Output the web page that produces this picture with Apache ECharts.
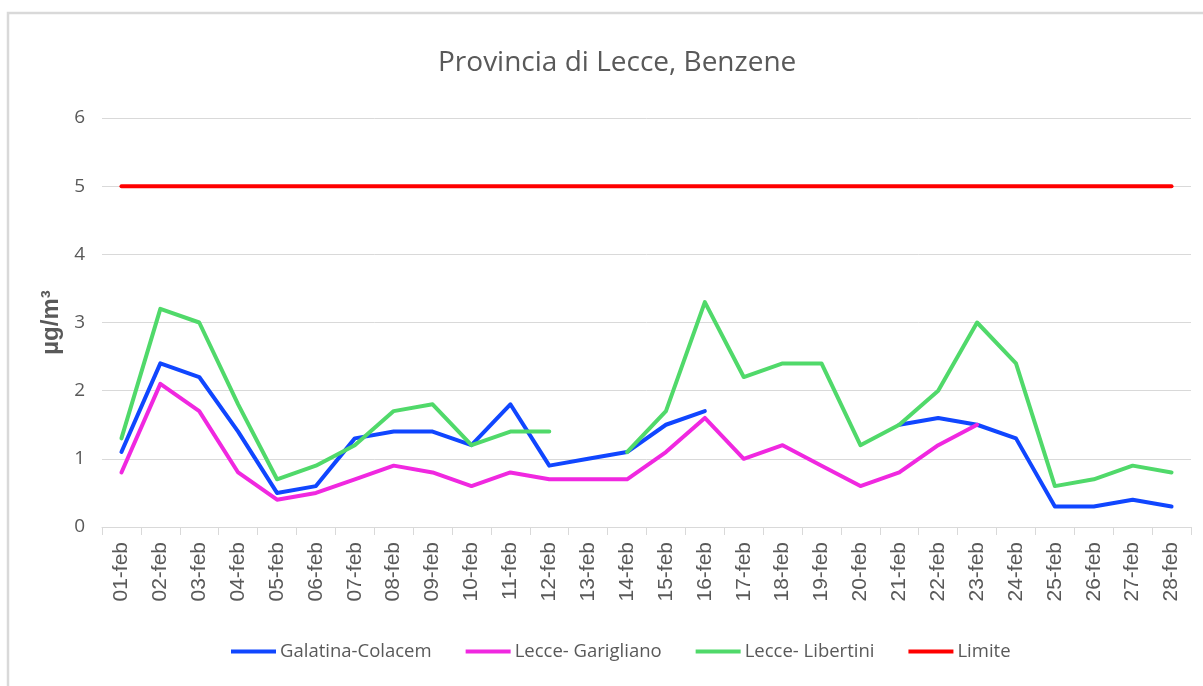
<!DOCTYPE html>
<html>
<head>
<meta charset="utf-8">
<script src="https://cdn.jsdelivr.net/npm/echarts@6/dist/echarts.min.js"></script>
<style>
  html, body { margin: 0; padding: 0; background: #fff; }
  #chart { width: 1203px; height: 686px; }
</style>
</head>
<body>
<div id="chart"></div>
<script>
// giorni di febbraio
var days = ['01-feb', '02-feb', '03-feb', '04-feb', '05-feb', '06-feb', '07-feb',
  '08-feb', '09-feb', '10-feb', '11-feb', '12-feb', '13-feb', '14-feb', '15-feb',
  '16-feb', '17-feb', '18-feb', '19-feb', '20-feb', '21-feb', '22-feb', '23-feb',
  '24-feb', '25-feb', '26-feb', '27-feb', '28-feb']

// valori benzene (µg/m3), null = dato mancante
var galatina = [1.1, 2.4, 2.2, 1.4, 0.5, 0.6, 1.3, 1.4, 1.4, 1.2, 1.8, 0.9, 1.0, 1.1,
  1.5, 1.7, null, null, null, null, 1.5, 1.6, 1.5, 1.3, 0.3, 0.3, 0.4, 0.3]
var garigliano = [0.8, 2.1, 1.7, 0.8, 0.4, 0.5, 0.7, 0.9, 0.8, 0.6, 0.8, 0.7, 0.7, 0.7,
  1.1, 1.6, 1.0, 1.2, 0.9, 0.6, 0.8, 1.2, 1.5, null, null, null, null, null]
var libertini = [1.3, 3.2, 3.0, 1.8, 0.7, 0.9, 1.2, 1.7, 1.8, 1.2, 1.4, 1.4, null, 1.1,
  1.7, 3.3, 2.2, 2.4, 2.4, 1.2, 1.5, 2.0, 3.0, 2.4, 0.6, 0.7, 0.9, 0.8]
var limite = days.map(function () { return 5 })

var chart = echarts.init(document.getElementById('chart'))

function line(name, data, color) {
  return {
    name: name,
    type: 'line',
    data: data,
    symbol: 'none',
    connectNulls: false,
    lineStyle: { width: 4, color: color, cap: 'round', join: 'round' },
    itemStyle: { color: color }
  }
}

var option = {
  animation: false,
  backgroundColor: '#fff',
  textStyle: { fontFamily: 'Open Sans, sans-serif' },
  graphic: [{
    type: 'rect',
    shape: { x: 8, y: 13, width: 1300, height: 800 },
    style: { fill: 'none', stroke: '#d9d9d9', lineWidth: 2.5 },
    silent: true
  }],
  title: {
    text: 'Provincia di Lecce, Benzene',
    left: 433,
    top: 44,
    textStyle: {
      fontFamily: 'Open Sans, sans-serif',
      fontSize: 28,
      fontWeight: 'normal',
      color: '#595959'
    }
  },
  legend: {
    bottom: 20,
    left: 226,
    icon: 'rect',
    itemWidth: 45,
    itemHeight: 4,
    itemGap: 34,
    textStyle: { fontFamily: 'Open Sans, sans-serif', fontSize: 18.5, color: '#595959', padding: [0, 0, 0, -1] },
    data: ['Galatina-Colacem', 'Lecce- Garigliano', 'Lecce- Libertini', 'Limite']
  },
  grid: { left: 102, right: 12, top: 118, bottom: 159 },
  xAxis: {
    type: 'category',
    data: days,
    boundaryGap: true,
    axisLine: { lineStyle: { color: '#d9d9d9', width: 1 } },
    axisTick: { show: true, length: 8, lineStyle: { color: '#d9d9d9' } },
    axisLabel: {
      rotate: 90,
      interval: 0,
      fontFamily: 'Liberation Sans, Arial, sans-serif',
      fontSize: 21,
      color: '#595959',
      margin: 15
    }
  },
  yAxis: {
    type: 'value',
    min: 0,
    max: 6,
    interval: 1,
    name: 'µg/m³',
    nameLocation: 'middle',
    nameGap: 39,
    nameTextStyle: { fontSize: 24, fontWeight: 'bold', color: '#595959',
      fontFamily: 'Liberation Sans, Arial, sans-serif' },
    axisLine: { show: false },
    axisTick: { show: false },
    axisLabel: { fontSize: 19, color: '#595959', margin: 17 },
    splitLine: { lineStyle: { color: '#d9d9d9', width: 1 } }
  },
  series: [
    line('Galatina-Colacem', galatina, '#1046ff'),
    line('Lecce- Garigliano', garigliano, '#f028e0'),
    line('Lecce- Libertini', libertini, '#50d96a'),
    line('Limite', limite, '#ff0000')
  ]
}

chart.setOption(option)
</script>
</body>
</html>
